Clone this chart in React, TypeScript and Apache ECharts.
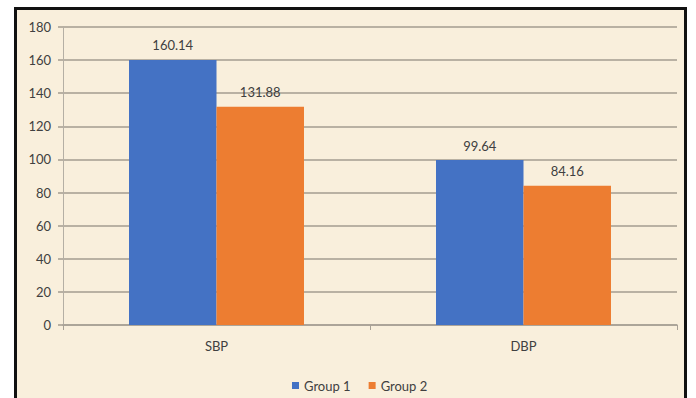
import React, { useEffect, useRef } from "react";
import * as echarts from "echarts";

const categories = ["SBP", "DBP"];
const group1 = [160.14, 99.64];
const group2 = [131.88, 84.16];
const seriesNames = ["Group 1", "Group 2"];

export default function App() {
  const ref = useRef<HTMLDivElement>(null);
  useEffect(() => {
    if (!ref.current) return;
    const chart = echarts.init(ref.current, null, { renderer: "svg" });
    const font = "Lato, 'Open Sans', sans-serif";
    chart.setOption({
      animation: false,
      backgroundColor: "#ffffff",
      graphic: [
        {
          type: "rect",
          z: -10,
          shape: { x: 15.5, y: 8.5, width: 670, height: 400 },
          style: { fill: "#F9EFDC", stroke: "#111111", lineWidth: 3 },
        },
      ],
      grid: { left: 63, right: 19, top: 27, bottom: 73 },
      legend: {
        data: seriesNames,
        left: 287,
        top: 374,
        icon: "rect",
        itemWidth: 7,
        itemHeight: 7,
        itemGap: 18,
        textStyle: { color: "#404040", fontSize: 13, fontFamily: font },
      },
      xAxis: {
        type: "category",
        data: categories,
        axisLine: { show: true, lineStyle: { color: "#a8a196", width: 1.5 } },
        axisTick: { show: true, length: 5, lineStyle: { color: "#a8a196" } },
        axisLabel: { color: "#404040", fontSize: 13, fontFamily: font, margin: 14 },
      },
      yAxis: {
        type: "value",
        min: 0,
        max: 180,
        interval: 20,
        axisLine: { show: true, lineStyle: { color: "#b5afa4", width: 1 } },
        axisTick: { show: true, length: 5, lineStyle: { color: "#a39c90", width: 1.5 } },
        splitLine: { show: true, lineStyle: { color: "#a39c90", width: 1.5 } },
        axisLabel: { color: "#404040", fontSize: 13, fontFamily: font, margin: 12 },
      },
      series: [
        {
          name: seriesNames[0],
          type: "bar",
          data: group1,
          barWidth: "28.5%",
          barGap: "0%",
          itemStyle: { color: "#4472C4" },
          label: {
            show: true,
            position: "top",
            distance: 8,
            color: "#404040",
            fontSize: 13,
            fontFamily: font,
          },
        },
        {
          name: seriesNames[1],
          type: "bar",
          data: group2,
          barWidth: "28.5%",
          barGap: "0%",
          itemStyle: { color: "#ED7D31" },
          label: {
            show: true,
            position: "top",
            distance: 8,
            color: "#404040",
            fontSize: 13,
            fontFamily: font,
          },
        },
      ],
    });
    return () => chart.dispose();
  }, []);
  return (
    <div
      ref={ref}
      style={{ position: "fixed", left: 0, top: 0, width: 696, height: 398 }}
    />
  );
}
